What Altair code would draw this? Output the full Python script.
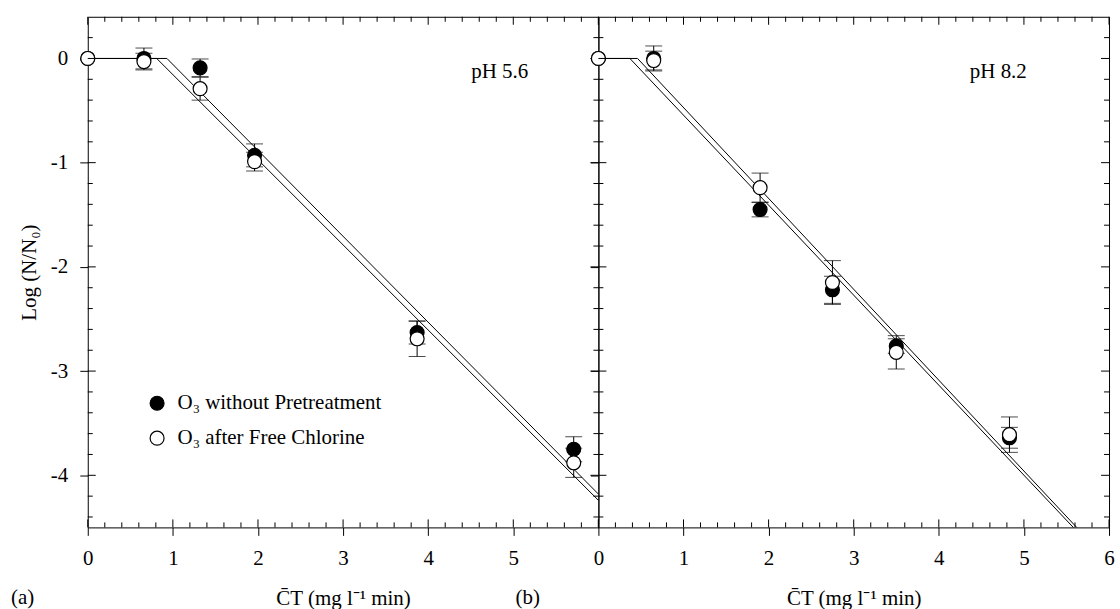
import altair as alt
import pandas as pd

FONT = "Liberation Serif"
FS = 21
SERIES = ["O\u2083 without Pretreatment", "O\u2083 after Free Chlorine"]

# ---- panel (a): pH 5.6 ----
ct_a = [0.0, 0.66, 1.32, 1.96, 3.87, 5.71]
no_pre_a = [0.0, 0.0, -0.09, -0.93, -2.63, -3.75]
no_pre_err_a = [None, 0.10, 0.085, 0.11, 0.11, 0.12]
chlor_a = [0.0, -0.03, -0.29, -0.99, -2.69, -3.88]
chlor_err_a = [None, 0.08, 0.11, 0.09, 0.17, 0.14]
fit_a_lower_x = [0.0, 0.81, 6.0]
fit_a_lower_y = [0.0, 0.0, -4.24]
fit_a_upper_x = [0.0, 0.93, 6.0]
fit_a_upper_y = [0.0, 0.0, -4.18]

# ---- panel (b): pH 8.2 ----
ct_b = [0.0, 0.65, 1.90, 2.75, 3.50, 4.83]
no_pre_b = [0.0, 0.0, -1.45, -2.22, -2.76, -3.64]
no_pre_err_b = [None, 0.12, 0.07, 0.13, 0.07, 0.10]
chlor_b = [0.0, -0.02, -1.24, -2.15, -2.82, -3.61]
chlor_err_b = [None, 0.09, 0.14, 0.21, 0.16, 0.17]
fit_b_lower_x = [0.0, 0.37, 5.58]
fit_b_lower_y = [0.0, 0.0, -4.5]
fit_b_upper_x = [0.0, 0.46, 5.62]
fit_b_upper_y = [0.0, 0.0, -4.5]

# ---- axis ticks ----
x_major = [0, 1, 2, 3, 4, 5, 6]
x_minor = [0.2, 0.4, 0.6, 0.8, 1.2, 1.4, 1.6, 1.8, 2.2, 2.4, 2.6, 2.8,
           3.2, 3.4, 3.6, 3.8, 4.2, 4.4, 4.6, 4.8, 5.2, 5.4, 5.6, 5.8]
y_major = [0, -1, -2, -3, -4]
y_minor = [0.2, -0.2, -0.4, -0.6, -0.8, -1.2, -1.4, -1.6, -1.8, -2.2, -2.4,
           -2.6, -2.8, -3.2, -3.4, -3.6, -3.8, -4.2, -4.4]
x_labels_a = [0, 1, 2, 3, 4, 5]
x_labels_b = [0, 1, 2, 3, 4, 5, 6]

X_TITLE = "C\u0304T (mg l\u207b\u00b9 min)"
Y_TITLE = "Log (N/N\u2080)"

W = 512
H = 512
XS = alt.Scale(domain=[0, 6], nice=False, zero=False)
YS = alt.Scale(domain=[-4.5, 0.4], nice=False, zero=False)
FILL = alt.Scale(domain=SERIES, range=["black", "white"])


def panel(ct, ya, ea, yb, eb, fits, ph, ph_x, xlabels, left, tag, tag_x):
    x_axis = alt.Axis(values=xlabels, tickSize=8, labelPadding=12, title=X_TITLE,
                      titlePadding=19, labelFlush=False, labelOverlap=False,
                      domain=False, grid=False)
    if left:
        y_axis = alt.Axis(values=y_major, tickSize=8, labelPadding=12, title=Y_TITLE,
                          titlePadding=11, labelExpr="'' + datum.value",
                          domain=False, grid=False)
    else:
        y_axis = alt.Axis(values=y_major, tickSize=8, labels=False, title="",
                          domain=False, grid=False)

    def X(f):
        return alt.X(f, scale=XS, axis=x_axis)

    def Y(f):
        return alt.Y(f, scale=YS, axis=y_axis)

    pts = pd.DataFrame({
        "x": ct + ct,
        "y": ya + yb,
        "err": ea + eb,
        "s": [SERIES[0]] * len(ct) + [SERIES[1]] * len(ct),
    })
    eb_df = pts.dropna(subset=["err"]).copy()
    eb_df["err"] = eb_df["err"].astype(float)
    eb_df["lo"] = eb_df["y"] - eb_df["err"]
    eb_df["hi"] = eb_df["y"] + eb_df["err"]

    rows = []
    for i, (fx, fy) in enumerate(fits):
        for k, (a, b) in enumerate(zip(fx, fy)):
            rows.append({"fit": i, "k": k, "x": a, "y": b})
    fit_df = pd.DataFrame(rows)

    lines = alt.Chart(fit_df).mark_line(color="black", strokeWidth=1).encode(
        x=X("x:Q"), y=Y("y:Q"), detail="fit:N", order="k:Q",
    )
    bars = alt.Chart(eb_df).mark_rule(color="black", strokeWidth=1).encode(
        x=X("x:Q"), y=Y("lo:Q"), y2="hi:Q",
    )
    cap_lo = alt.Chart(eb_df).mark_tick(orient="horizontal", size=17, thickness=1,
                                        color="black").encode(x=X("x:Q"), y=Y("lo:Q"))
    cap_hi = alt.Chart(eb_df).mark_tick(orient="horizontal", size=17, thickness=1,
                                        color="black").encode(x=X("x:Q"), y=Y("hi:Q"))
    if left:
        legend = alt.Legend(title=None, orient="none", legendX=59, legendY=377,
                            labelFont=FONT, labelFontSize=FS, labelColor="black",
                            symbolSize=195, symbolType="circle",
                            symbolStrokeColor="black", symbolStrokeWidth=1.2,
                            rowPadding=13, labelOffset=10, labelLimit=400)
    else:
        legend = None
    circles = []
    for s in SERIES:
        circles.append(
            alt.Chart(pts[pts["s"] == s]).mark_circle(
                size=195, stroke="black", strokeWidth=1.2, opacity=1
            ).encode(
                x=X("x:Q"), y=Y("y:Q"),
                fill=alt.Fill("s:N", scale=FILL, legend=legend),
            )
        )

    ticks = []
    for vals, ln in ((x_major, 8), (x_minor, 5)):
        base = alt.Chart(pd.DataFrame({"x": vals})).mark_rule(color="black", strokeWidth=1)
        ticks.append(base.encode(x=X("x:Q"), y=alt.value(H), y2=alt.value(H - ln)))
        ticks.append(base.encode(x=X("x:Q"), y=alt.value(0), y2=alt.value(ln)))
    for vals, ln in ((y_major, 8), (y_minor, 5)):
        base = alt.Chart(pd.DataFrame({"y": vals})).mark_rule(color="black", strokeWidth=1)
        ticks.append(base.encode(y=Y("y:Q"), x=alt.value(0), x2=alt.value(ln)))
        ticks.append(base.encode(y=Y("y:Q"), x=alt.value(W), x2=alt.value(W - ln)))

    ph_text = alt.Chart(pd.DataFrame({"t": [ph]})).mark_text(
        font=FONT, fontSize=FS, color="black", align="center", baseline="middle"
    ).encode(text="t:N", x=alt.value(ph_x), y=alt.value(55))
    tag_text = alt.Chart(pd.DataFrame({"t": [tag]})).mark_text(
        font=FONT, fontSize=FS, color="black", align="left", baseline="top"
    ).encode(text="t:N", x=alt.value(tag_x), y=alt.value(H + 60))

    return alt.layer(lines, bars, cap_lo, cap_hi, *circles, *ticks,
                     ph_text, tag_text).properties(width=W, height=H)


left = panel(ct_a, no_pre_a, no_pre_err_a, chlor_a, chlor_err_a,
             [(fit_a_lower_x, fit_a_lower_y), (fit_a_upper_x, fit_a_upper_y)],
             "pH 5.6", 413, x_labels_a, True, "(a)", -77)
right = panel(ct_b, no_pre_b, no_pre_err_b, chlor_b, chlor_err_b,
              [(fit_b_lower_x, fit_b_lower_y), (fit_b_upper_x, fit_b_upper_y)],
              "pH 8.2", 401, x_labels_b, False, "(b)", -83)

chart = alt.hconcat(left, right, spacing=0, bounds="flush").resolve_scale(
    fill="independent"
).resolve_legend(fill="independent").properties(
    padding={"left": 10, "top": 15, "right": 5, "bottom": 0},
    background="white",
).configure_view(
    stroke="black", strokeWidth=1
).configure_axis(
    labelFont=FONT, labelFontSize=FS, labelColor="black",
    titleFont=FONT, titleFontSize=FS, titleFontWeight="normal", titleColor="black",
    tickColor="black", tickWidth=1,
)

chart.save("out.html", embed_options={"renderer": "svg", "actions": False})
